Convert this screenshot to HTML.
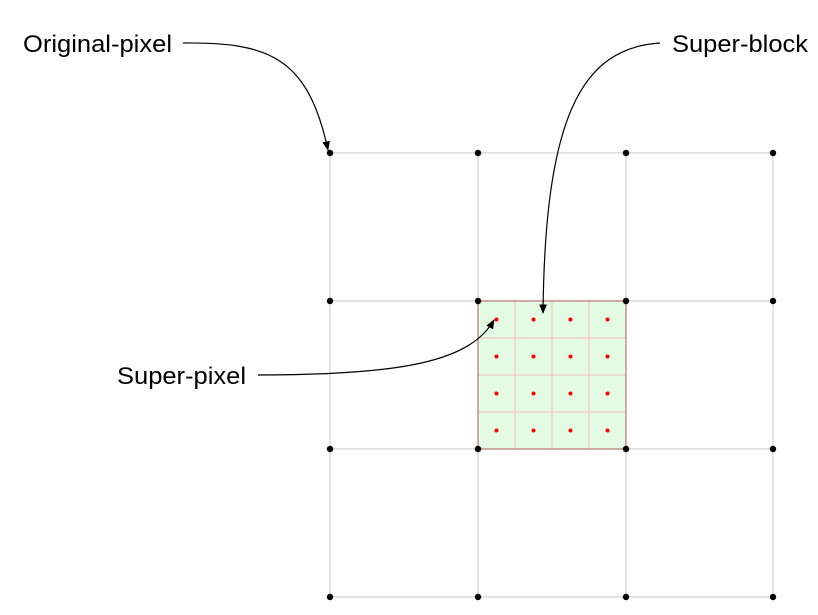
<!DOCTYPE html>
<html><head><meta charset="utf-8"><style>
html,body{margin:0;padding:0;background:#fff;width:818px;height:615px;overflow:hidden}
text{font-family:"Liberation Sans",sans-serif;font-size:24px;fill:#000}
</style></head><body>
<svg id="chart" width="818" height="615" viewBox="0 0 818 615" xmlns="http://www.w3.org/2000/svg">
<defs><marker id="ah" viewBox="0 0 10 10" refX="9" refY="5" markerWidth="8" markerHeight="8" orient="auto"><path d="M0,1 L10,5 L0,9 z" fill="#000"/></marker></defs>
<g id="grid"></g>
<g id="block"></g>
<g id="nodes"></g>
<path d="M183,43 C270,42 308,58 328,150" fill="none" stroke="#000" stroke-width="1.2" marker-end="url(#ah)"/>
<path d="M660,43 C580,48 545,120 543,313" fill="none" stroke="#000" stroke-width="1.2" marker-end="url(#ah)"/>
<path d="M258,375 C400,375 470,362 494,320" fill="none" stroke="#000" stroke-width="1.2" marker-end="url(#ah)"/>
<text x="23" y="52" textLength="149" lengthAdjust="spacingAndGlyphs">Original-pixel</text>
<text x="672" y="52" textLength="136" lengthAdjust="spacingAndGlyphs">Super-block</text>
<text x="117" y="384" textLength="129" lengthAdjust="spacingAndGlyphs">Super-pixel</text>
</svg>
<script>
const gridX=[330,478,626,773];
const gridY=[153,301,449,597];
const blockCol=1, blockRow=1, subdiv=4;
const NS='http://www.w3.org/2000/svg';
function mk(t,a,p){const e=document.createElementNS(NS,t);for(const k in a)e.setAttribute(k,a[k]);p.appendChild(e);return e;}
const g=document.getElementById('grid'),b=document.getElementById('block'),n=document.getElementById('nodes');
const x0=gridX[blockCol],x1=gridX[blockCol+1],y0=gridY[blockRow],y1=gridY[blockRow+1];
const r=mk('rect',{x:x0,y:y0,width:x1-x0,height:y1-y0,fill:'#e3fbe3'},b);


gridX.forEach(x=>{const l=mk('line',{x1:x,y1:gridY[0],x2:x,y2:gridY[3],stroke:'#c8c8c8','stroke-width':1},g);

});
gridY.forEach(y=>{const l=mk('line',{x1:gridX[0],y1:y,x2:gridX[3],y2:y,stroke:'#c8c8c8','stroke-width':1},g);

});
const cw=(x1-x0)/subdiv,ch=(y1-y0)/subdiv;
for(let i=1;i<subdiv;i++){
 const a=mk('line',{x1:x0+i*cw,y1:y0,x2:x0+i*cw,y2:y1,stroke:'#f8b8b8','stroke-width':1},b);
 
 
 const c=mk('line',{x1:x0,y1:y0+i*ch,x2:x1,y2:y0+i*ch,stroke:'#f8b8b8','stroke-width':1},b);
 
 
}
const br=mk('rect',{x:x0,y:y0,width:x1-x0,height:y1-y0,fill:'none',stroke:'#c09090','stroke-width':1.5},b);


for(let i=0;i<subdiv;i++)for(let j=0;j<subdiv;j++){
 const d=mk('circle',{cx:x0+(i+0.5)*cw,cy:y0+(j+0.5)*ch,r:2,fill:'#ff0000'},b);
 
 
}
gridX.forEach(x=>gridY.forEach(y=>{const d=mk('circle',{cx:x,cy:y,r:3.2,fill:'#000'},n);

}));
</script>
</body></html>
